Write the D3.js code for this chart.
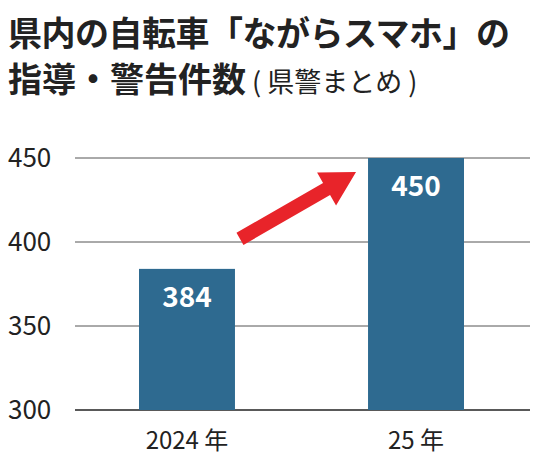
<!DOCTYPE html><html><head><meta charset="utf-8"><script src="https://cdn.jsdelivr.net/npm/d3@7"></script>
<style>body{margin:0;background:#fff}text{font-family:"Noto Sans CJK JP","Noto Sans",sans-serif}</style></head><body><svg id="c" width="546" height="470"></svg>
<script>
const categories=["2024 年","25 年"];
const values=[384,450];
const ticks=[300,350,400,450];
const svg=d3.select("#c");
const y=d3.scaleLinear().domain([300,450]).range([410,158]);
const x=d3.scaleBand().domain(categories).range([70.3,532.7]).paddingInner(0.581).paddingOuter(0.3);
svg.append("text").attr("x",8).attr("y",46).attr("font-size",34).attr("font-weight",700).attr("fill","#222").attr("letter-spacing",-0.5).text("県内の自転車「ながらスマホ」の");
const t2=svg.append("text").attr("x",8).attr("y",92).attr("fill","#222");
t2.append("tspan").attr("font-size",34).attr("font-weight",700).text("指導・警告件数");
t2.append("tspan").attr("font-size",27).attr("font-weight",400).text(" ( 県警まとめ )");
ticks.forEach(v=>{
 svg.append("line").attr("x1",75).attr("x2",530).attr("y1",y(v)).attr("y2",y(v)).attr("stroke",v===300?"#222":"#555").attr("stroke-width",v===300?1.5:1);
 svg.append("text").attr("x",8).attr("y",y(v)+9).attr("font-size",26).attr("fill","#222").text(v);
});
svg.selectAll("rect.b").data(values).enter().append("rect").attr("x",(d,i)=>x(categories[i])).attr("width",x.bandwidth()).attr("y",d=>y(d)).attr("height",d=>y(300)-y(d)).attr("fill","#2e6a90");
svg.selectAll("text.v").data(values).enter().append("text").attr("x",(d,i)=>x(categories[i])+x.bandwidth()/2).attr("y",d=>y(d)+38).attr("text-anchor","middle").attr("font-size",28).attr("font-weight",700).attr("fill","#fff").text(d=>d);
categories.forEach(c=>svg.append("text").attr("x",x(c)+x.bandwidth()/2).attr("y",449).attr("text-anchor","middle").attr("font-size",24).attr("fill","#222").text(c));
const x0=x(categories[0])+x.bandwidth()+5,y0=y(values[0])-30,x1=x(categories[1])-12,y1=y(values[1])+14;
const ang=Math.atan2(y1-y0,x1-x0),L=Math.hypot(x1-x0,y1-y0);
const g=svg.append("g").attr("transform",`translate(${x0},${y0}) rotate(${ang*180/Math.PI})`);
g.append("path").attr("d",`M0,-7 L${L-34},-7 L${L-34},-19 L${L},0 L${L-34},19 L${L-34},7 L0,7 Z`).attr("fill","#e8242a");
</script></body></html>
